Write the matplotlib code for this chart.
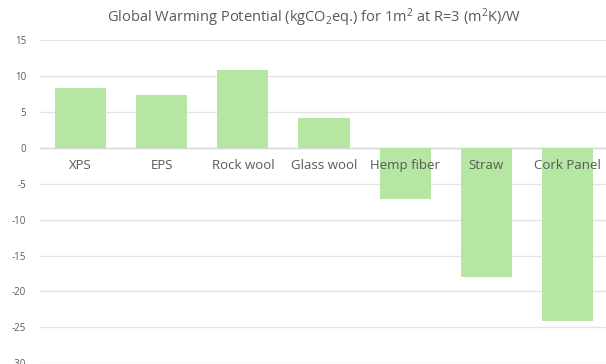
import matplotlib
matplotlib.use("Agg")
import matplotlib.pyplot as plt

categories = ["XPS", "EPS", "Rock wool", "Glass wool", "Hemp fiber", "Straw", "Cork Panel"]
gwp_values = [8.3, 7.3, 10.8, 4.2, -7.2, -18.0, -24.1]
y_ticks = [15, 10, 5, 0, -5, -10, -15, -20, -25, -30]

plt.rcParams["font.family"] = ["Open Sans", "DejaVu Sans"]
plt.rcParams["mathtext.default"] = "regular"

W, H = 606, 364
fig = plt.figure(figsize=(W / 100, H / 100), dpi=100)
left, right = 40 / W, 608 / W
top, bottom = (H - 40) / H, (H - 363.3) / H
ax = fig.add_axes([left, bottom, right - left, top - bottom])

bar_color = "#b5e6a2"
text_color = "#595959"
grid_color = "#e3e3e3"

x = list(range(len(categories)))
ax.bar(x, gwp_values, width=0.63, color=bar_color, zorder=2)

ax.set_xlim(-0.5, len(categories) - 0.5)
ax.set_ylim(-30, 15)
ax.set_yticks(y_ticks)
ax.set_yticklabels([str(t) for t in y_ticks])
ax.set_xticks([])
ax.tick_params(axis="y", length=0, pad=10, labelsize=7, labelcolor=text_color)
for s in ax.spines.values():
    s.set_visible(False)
for t in y_ticks:
    ax.axhline(t, color=grid_color, lw=1.0, zorder=1)
ax.axhline(0, color="#d9d9d9", lw=1.0, zorder=1)

for i, name in enumerate(categories):
    ax.annotate(name, xy=(i, 0), xytext=(0, -12.8), textcoords="offset points",
                ha="center", va="center", fontsize=9.5, color=text_color, zorder=3)

fig.text(314 / W, 1 - 18 / H,
         r"Global Warming Potential (kgCO$_2$eq.) for 1m$^2$ at R=3 (m$^2$K)/W",
         ha="center", va="center", fontsize=10.5, color=text_color)

fig.savefig("out.png", dpi=100)
